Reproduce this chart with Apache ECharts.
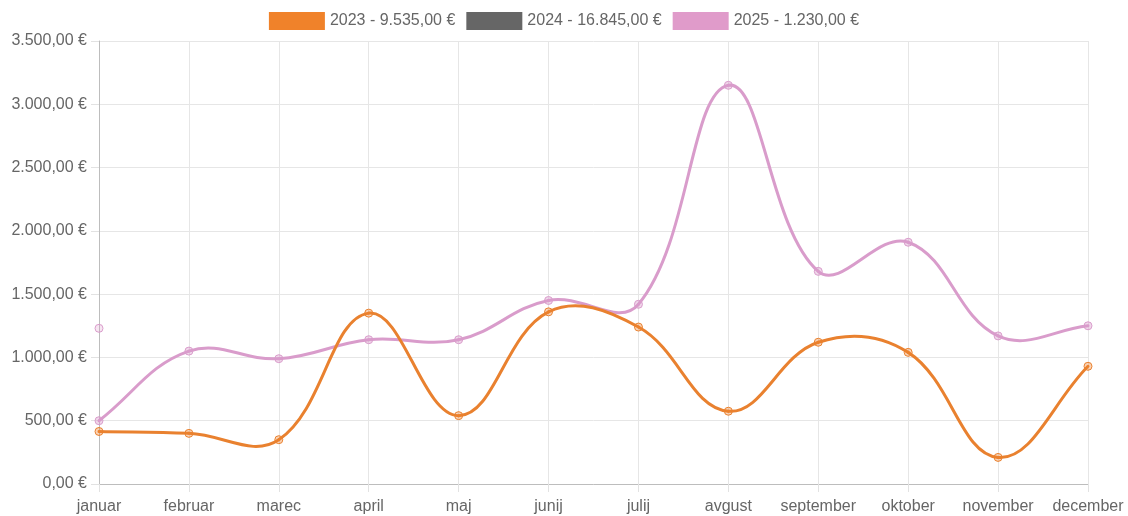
<!DOCTYPE html>
<html>
<head>
<meta charset="utf-8">
<script src="https://cdn.jsdelivr.net/npm/echarts@6/dist/echarts.min.js"></script>
<style>
html,body{margin:0;padding:0;background:#fff;}
#chart{width:1128px;height:516px;}
</style>
</head>
<body>
<div id="chart"></div>
<script>
const months = ['januar','februar','marec','april','maj','junij','julij','avgust','september','oktober','november','december'];
const legendLabels = ['2023 - 9.535,00 €','2024 - 16.845,00 €','2025 - 1.230,00 €'];
const values2023 = [415, 400, 350, 1350, 540, 1360, 1240, 575, 1120, 1040, 210, 930];
const values2024 = [500, 1050, 990, 1140, 1140, 1450, 1420, 3150, 1680, 1910, 1170, 1250];
const values2025 = [1230, null, null, null, null, null, null, null, null, null, null, null];
const yTicks = {min: 0, max: 3500, interval: 500};

const legendColors = ['#f0822a', '#666666', '#e09bca'];
const lineColors = ['#e9812f', '#d99ccb', '#d99ccb'];
const pointFills = ['rgba(240,130,42,0.35)', 'rgba(217,156,203,0.4)', 'rgba(224,155,202,0.25)'];
const FONT = 'Liberation Sans, Arial, sans-serif';

function euro(v){
  const parts = v.toFixed(2).split('.');
  const intPart = parts[0].replace(/\B(?=(\d{3})+(?!\d))/g, '.');
  return intPart + ',' + parts[1] + ' €';
}

// Chart.js-style cardinal spline (tension 0.4), computed in pixel space from the axis scales
function splineRender(vals, color){
  return function(params, api){
    if (params.dataIndex !== 0) return;
    const cs = params.coordSys;
    const tension = 0.4;
    const pts = vals.map((v, i) => v == null ? null : api.coord([i, v]));
    const children = [];
    const cps = pts.map((p, i) => {
      if (!p) return null;
      const prev = pts[i - 1] || p;
      const next = pts[i + 1] || p;
      const d01 = Math.hypot(p[0] - prev[0], p[1] - prev[1]);
      const d12 = Math.hypot(next[0] - p[0], next[1] - p[1]);
      let s01 = d01 / (d01 + d12), s12 = d12 / (d01 + d12);
      if (isNaN(s01)) s01 = 0;
      if (isNaN(s12)) s12 = 0;
      const fa = tension * s01, fb = tension * s12;
      const clampX = x => Math.max(cs.x, Math.min(cs.x + cs.width, x));
      const clampY = y => Math.max(cs.y, Math.min(cs.y + cs.height, y));
      return {
        prev: [clampX(p[0] - fa * (next[0] - prev[0])), clampY(p[1] - fa * (next[1] - prev[1]))],
        next: [clampX(p[0] + fb * (next[0] - prev[0])), clampY(p[1] + fb * (next[1] - prev[1]))]
      };
    });
    for (let i = 0; i < pts.length - 1; i++) {
      const a = pts[i], b = pts[i + 1];
      if (!a || !b) continue;
      children.push({
        type: 'bezierCurve',
        shape: {
          x1: a[0], y1: a[1], x2: b[0], y2: b[1],
          cpx1: cps[i].next[0], cpy1: cps[i].next[1],
          cpx2: cps[i + 1].prev[0], cpy2: cps[i + 1].prev[1]
        },
        style: {stroke: color, lineWidth: 3, fill: null, lineCap: 'round'},
        silent: true
      });
    }
    return {type: 'group', children: children};
  };
}

const allValues = [values2023, values2024, values2025];
const lineZ = [4, 2, 2];
const series = [];
allValues.forEach((vals, i) => {
  if (vals.filter(v => v != null).length > 1) {
    series.push({
      name: legendLabels[i],
      type: 'custom',
      coordinateSystem: 'cartesian2d',
      data: [[0, 0]],
      renderItem: splineRender(vals, lineColors[i]),
      z: lineZ[i],
      silent: true,
      itemStyle: {color: legendColors[i]},
      tooltip: {show: false}
    });
  }
  series.push({
    name: legendLabels[i],
    type: 'line',
    data: vals,
    symbol: 'circle',
    symbolSize: 8,
    showSymbol: true,
    z: lineZ[i] + 1,
    lineStyle: {width: 0, opacity: 0},
    itemStyle: {color: pointFills[i], borderColor: lineColors[i], borderWidth: 1},
    emphasis: {disabled: true}
  });
});

const chart = echarts.init(document.getElementById('chart'), null, {renderer: 'canvas'});
chart.setOption({
  animation: false,
  textStyle: {fontFamily: FONT},
  legend: {
    top: 7,
    left: 'center',
    icon: 'rect',
    itemWidth: 56,
    itemHeight: 18,
    itemGap: 11,
    textStyle: {color: '#666', fontSize: 16, fontFamily: FONT},
    data: legendLabels.map((n, i) => ({name: n, itemStyle: {color: legendColors[i], borderWidth: 0}}))
  },
  grid: {left: 99, right: 40, top: 41, bottom: 32, containLabel: false},
  xAxis: {
    type: 'category',
    data: months,
    boundaryGap: false,
    axisLine: {lineStyle: {color: '#bdbdbd', width: 1}},
    axisTick: {show: true, length: 8, lineStyle: {color: '#e2e2e2'}},
    axisLabel: {color: '#666', fontSize: 16, fontFamily: FONT, margin: 15, interval: 0},
    splitLine: {show: true, lineStyle: {color: '#e6e6e6', width: 1}}
  },
  yAxis: {
    type: 'value',
    min: yTicks.min,
    max: yTicks.max,
    interval: yTicks.interval,
    axisLine: {show: true, lineStyle: {color: '#bdbdbd', width: 1}},
    axisTick: {show: true, length: 8, lineStyle: {color: '#e2e2e2'}},
    axisLabel: {color: '#666', fontSize: 16, fontFamily: FONT, margin: 12, formatter: v => euro(v)},
    splitLine: {show: true, lineStyle: {color: '#e6e6e6', width: 1}}
  },
  series: series
});
</script>
</body>
</html>
